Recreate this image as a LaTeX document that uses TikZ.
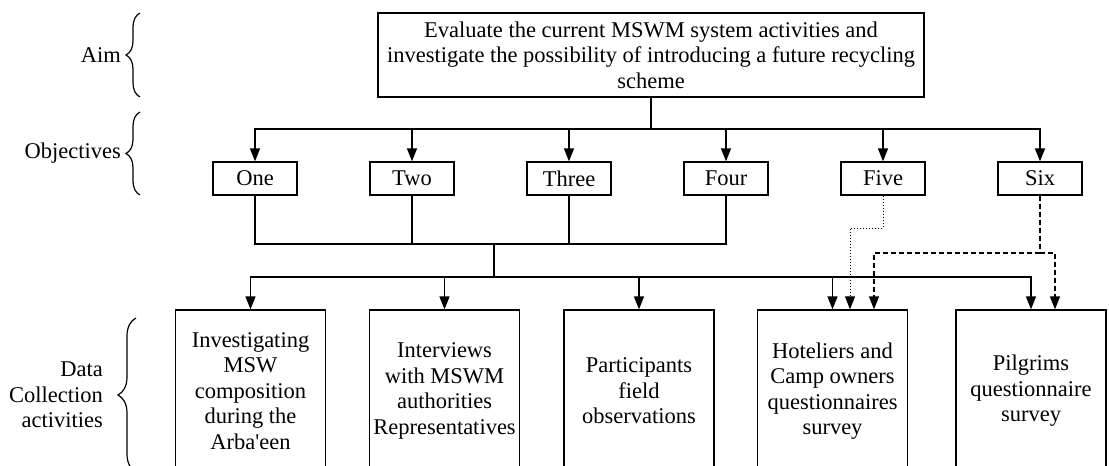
\documentclass[tikz,border=0pt]{standalone}
\usepackage{fontspec}
\setmainfont{Liberation Serif}
\usetikzlibrary{arrows.meta,decorations.pathreplacing}
\begin{document}
\begin{tikzpicture}[x=1pt,y=-1pt,
  every node/.style={font=\fontsize{22.5}{25.5}\selectfont, inner sep=0pt},
  boxbase/.style={draw, line width=1.3pt, align=center},
  aimbox/.style={boxbase, minimum width=546pt, minimum height=84pt},
  objbox/.style={boxbase, minimum width=84pt, minimum height=33pt},
  databox/.style={boxbase, minimum width=150pt, minimum height=162pt},
  link/.style={line width=1.3pt},
  arr/.style={link, -{Triangle[length=13pt,width=10pt]}},
  dotlink/.style={line width=1pt, dotted, -{Triangle[length=13pt,width=10pt]}},
  dashlink/.style={line width=1.3pt, dash pattern=on 5pt off 3pt, -{Triangle[length=13pt,width=10pt]}},
  bracedeco/.style={line width=1.2pt, decorate, decoration={brace, amplitude=#1}},
  sidelabel/.style={anchor=east, align=right}
]
\clip (0,0) rectangle (1109,466);
\fill[white] (0,0) rectangle (1109,466);

% side labels and braces
\node[sidelabel] (laim) at (121,55) {Aim};
\node[sidelabel] (lobj) at (121,153) {Objectives};
\node[sidelabel] (ldata) at (103,395) {Data\\Collection\\activities};
\draw[bracedeco=14pt] (140,97) -- (140,13);
\draw[bracedeco=14pt] (140,195) -- (140,112);
\draw[bracedeco=18pt] (136,472) -- (136,318);

% aim
\node[aimbox] (aim) at (651,55) {Evaluate the current MSWM system activities and\\investigate the possibility of introducing a future recycling\\scheme};

% objectives
\node[objbox] (o1) at (255,178.5) {One};
\node[objbox] (o2) at (412,178.5) {Two};
\node[objbox] (o3) at (569,178.5) {Three};
\node[objbox] (o4) at (726,178.5) {Four};
\node[objbox] (o5) at (883,178.5) {Five};
\node[objbox] (o6) at (1040,178.5) {Six};

% data collection activities
\node[databox] (d1) at (250.5,391) {Investigating\\MSW\\composition\\during the\\Arba\textquotesingle een};
\node[databox] (d2) at (444.5,391) {Interviews\\with MSWM\\authorities\\Representatives};
\node[databox] (d3) at (639,391) {Participants\\field\\observations};
\node[databox] (d4) at (832.5,391) {Hoteliers and\\Camp owners\\questionnaires\\survey};
\node[databox] (d5) at (1031,391) {Pilgrims\\questionnaire\\survey};

% aim to objectives
\coordinate (bus) at (651,129);
\draw[link] (aim.south) -- (bus);
\foreach \o in {o1,o2,o3,o4,o5,o6} {
  \draw[arr] (bus) -| (\o.north);
}

% objectives one to four joined, then split to activities
\coordinate (j1) at (494,244);
\coordinate (j2) at (494,277);
\foreach \o in {o1,o2,o3,o4} {
  \draw[link] (\o.south) |- (j1);
}
\draw[link] (j1) -- (j2);
\foreach \d in {d1,d2,d3,d4,d5} {
  \draw[arr] (j2) -| (\d.north);
}

% objective five (dotted)
\coordinate (f1) at (883,228);
\coordinate (f2) at (850,228);
\draw[dotlink] (o5.south) -- (f1) -- (f2) -- (f2 |- d4.north);

% objective six (dashed)
\coordinate (s1) at (1040,253);
\coordinate (s2) at (874,253);
\coordinate (s3) at (1055,253);
\draw[line width=1.3pt, dash pattern=on 5pt off 3pt] (o6.south) -- (s1);
\draw[dashlink] (s1) -- (s2) -- (s2 |- d4.north);
\draw[dashlink] (s1) -- (s3) -- (s3 |- d5.north);
\end{tikzpicture}
\end{document}
